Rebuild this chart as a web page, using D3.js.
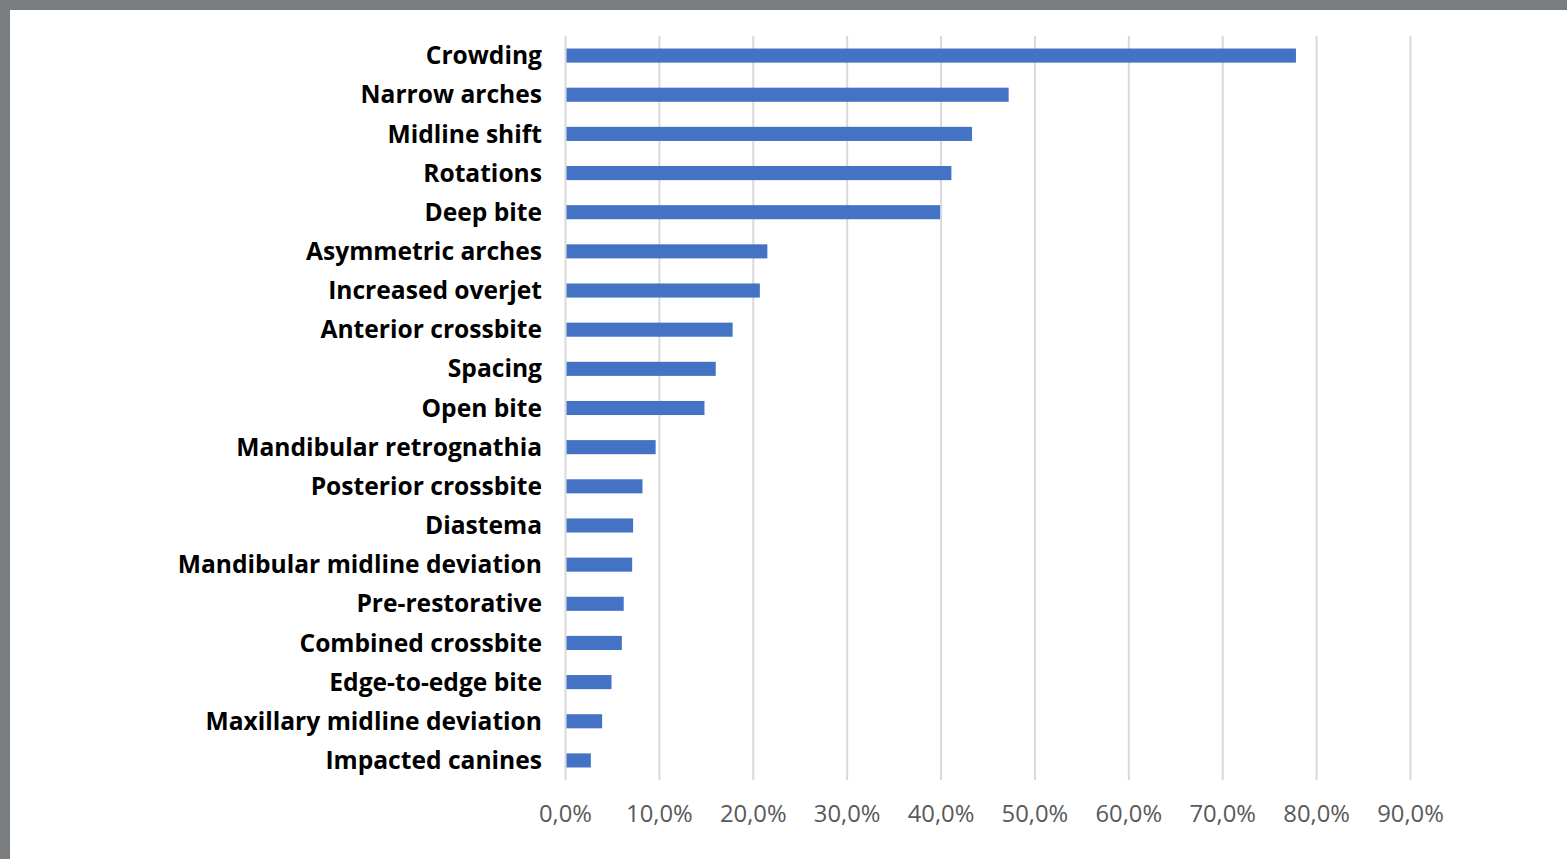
<!DOCTYPE html>
<html>
<head>
<meta charset="utf-8">
<script src="https://cdn.jsdelivr.net/npm/d3@7"></script>
<style>
  html, body { margin: 0; padding: 0; background: #7a7d80; }
  svg { display: block; }
</style>
</head>
<body>
<svg width="1567" height="859"></svg>
<script>
// categories, top to bottom
var categories = [
    "Crowding", "Narrow arches", "Midline shift", "Rotations", "Deep bite",
    "Asymmetric arches", "Increased overjet", "Anterior crossbite", "Spacing",
    "Open bite", "Mandibular retrognathia", "Posterior crossbite", "Diastema",
    "Mandibular midline deviation", "Pre-restorative", "Combined crossbite",
    "Edge-to-edge bite", "Maxillary midline deviation", "Impacted canines"
];
// percentages
var values = [77.8, 47.2, 43.3, 41.1, 39.9, 21.5, 20.7, 17.8, 16.0, 14.8,
    9.6, 8.2, 7.2, 7.1, 6.2, 6.0, 4.9, 3.9, 2.7];
var ticks = [0, 10, 20, 30, 40, 50, 60, 70, 80, 90];

var svg = d3.select("svg");

// white page area
svg.append("rect")
    .attr("x", 10).attr("y", 10)
    .attr("width", 1557).attr("height", 849)
    .attr("fill", "#ffffff");

var x = d3.scaleLinear().domain([0, 90]).range([565.5, 1410.5]);
var y = d3.scaleBand().domain(categories).range([36, 780]).paddingInner(0.64).paddingOuter(0.32);

// gridlines
svg.append("g")
    .selectAll("line")
    .data(ticks)
    .enter().append("line")
    .attr("x1", d => x(d)).attr("x2", d => x(d))
    .attr("y1", 36).attr("y2", 780)
    .attr("stroke", "#d9d9d9")
    .attr("stroke-width", 2);

// bars
svg.append("g")
    .selectAll("rect")
    .data(categories)
    .enter().append("rect")
    .attr("x", x(0) + 1)
    .attr("y", d => y(d))
    .attr("width", (d, i) => x(values[i]) - x(0) - 1)
    .attr("height", y.bandwidth())
    .attr("fill", "#4472c4");

// category labels
svg.append("g")
    .selectAll("text")
    .data(categories)
    .enter().append("text")
    .attr("x", 542)
    .attr("y", d => y(d) + y.bandwidth() / 2)
    .attr("dy", "0.35em")
    .attr("text-anchor", "end")
    .attr("font-family", "'Open Sans', sans-serif")
    .attr("font-weight", "bold")
    .attr("font-size", "24.6px")
    .attr("fill", "#000")
    .text(d => d);

// tick labels
svg.append("g")
    .selectAll("text")
    .data(ticks)
    .enter().append("text")
    .attr("x", d => x(d))
    .attr("y", 814)
    .attr("dy", "0.35em")
    .attr("text-anchor", "middle")
    .attr("font-family", "'Open Sans', sans-serif")
    .attr("font-size", "23.8px")
    .attr("fill", "#595959")
    .text(d => d3.format(".1f")(d).replace(".", ",") + "%");
</script>
</body>
</html>
